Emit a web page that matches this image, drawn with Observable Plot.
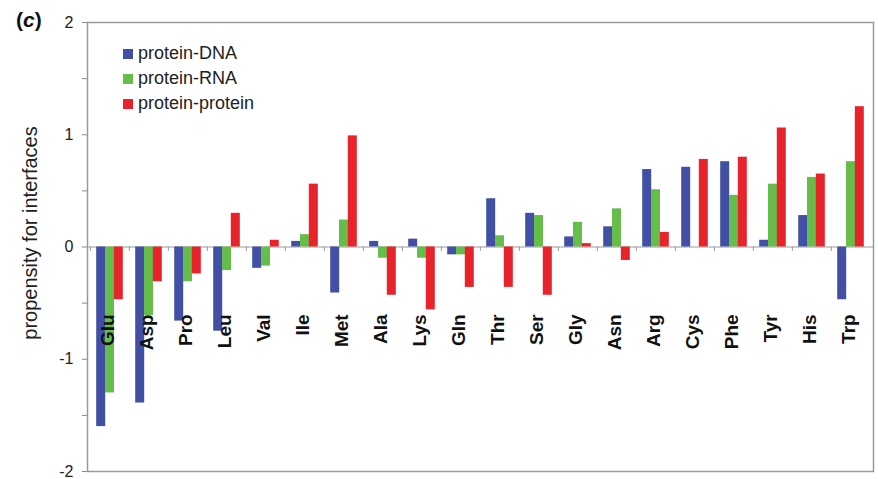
<!DOCTYPE html>
<html>
<head>
<meta charset="utf-8">
<script src="https://cdn.jsdelivr.net/npm/d3@7"></script>
<script src="https://cdn.jsdelivr.net/npm/@observablehq/plot@0.6"></script>
<style>
  html, body { margin: 0; padding: 0; background: #fff; }
  #wrap { position: relative; width: 878px; height: 479px; font-family: "Liberation Sans", Arial, sans-serif; }
  #panel { position: absolute; left: 16px; top: 8px; font-size: 21px; font-weight: bold; color: #111; }
  #legend { position: absolute; left: 123px; top: 41px; font-size: 18px; color: #222; }
  #legend .row { display: flex; align-items: center; height: 25px; }
  #legend .sw { width: 10px; height: 10px; margin-right: 5px; }
</style>
</head>
<body>
<div id="wrap">
  <div id="chart"></div>
  <div id="panel">(<i>c</i>)</div>
  <div id="legend"></div>
</div>
<script>
const categories = ["Glu","Asp","Pro","Leu","Val","Ile","Met","Ala","Lys","Gln","Thr","Ser","Gly","Asn","Arg","Cys","Phe","Tyr","His","Trp"];
const seriesNames = ["protein-DNA","protein-RNA","protein-protein"];
const seriesColors = ["#4150a5","#66bd4a","#e8232b"];
const proteinDNA =     [-1.60,-1.39,-0.66,-0.75,-0.19,0.05,-0.41,0.05,0.07,-0.07,0.43,0.30,0.09,0.18,0.69,0.71,0.76,0.06,0.28,-0.47];
const proteinRNA =     [-1.30,-0.61,-0.31,-0.21,-0.17,0.11,0.24,-0.10,-0.10,-0.07,0.10,0.28,0.22,0.34,0.51,0.00,0.46,0.56,0.62,0.76];
const proteinProtein = [-0.47,-0.31,-0.24,0.30,0.06,0.56,0.99,-0.43,-0.56,-0.36,-0.36,-0.43,0.03,-0.12,0.13,0.78,0.80,1.06,0.65,1.25];
const yTicks = [-2,-1.5,-1,-0.5,0,0.5,1,1.5,2];
const yLabel = "propensity for interfaces";

const W = 878, H = 479, ML = 87, MR = 5, MT = 22, MB = 8;
const step = (W - ML - MR) / categories.length;
const barW = 8.8;
const labelY = -0.6;

const seriesValues = [proteinDNA, proteinRNA, proteinProtein];
const tables = seriesValues.map((vals, s) => categories.map((c, i) => ({aa: c, value: vals[i], series: seriesNames[s]})));

const bars = tables.map((t, s) => Plot.barY(t, {
  x: "aa", y: "value", fill: seriesColors[s], dx: (s - 1) * barW
}));

const chart = Plot.plot({
  width: W, height: H,
  marginLeft: ML, marginRight: MR, marginTop: MT, marginBottom: MB,
  style: {fontFamily: "'Liberation Sans', Arial, sans-serif", background: "#fff"},
  x: {domain: categories, paddingInner: 1 - barW / step, paddingOuter: (1 - barW / step) / 2, axis: null},
  y: {domain: [-2, 2], axis: null},
  marks: [
    Plot.ruleY([0], {stroke: "#9a9a9a"}),
    Plot.ruleX(categories, {x: d => d, y1: 0, y2: -0.04, dx: -step / 2, stroke: "#9a9a9a"}),
    ...bars,
    Plot.text(categories, {x: d => d, y: labelY, text: d => d, rotate: -90, textAnchor: "end", fontWeight: "bold", fontSize: 19, fill: "#111", dx: -2}),
    Plot.axisY({ticks: yTicks, tickFormat: d => Number.isInteger(d) ? String(d) : "", tickSize: 5, tickPadding: 9, fontSize: 16, color: "#222", stroke: "#888", label: null}),
    Plot.text([yLabel], {frameAnchor: "left", text: d => d, rotate: -90, textAnchor: "middle", dx: -57, dy: -14, fontSize: 20, fill: "#222"}),
    Plot.frame({stroke: "#9a9a9a", strokeWidth: 1.5})
  ]
});
document.getElementById("chart").appendChild(chart);

const legend = document.getElementById("legend");
seriesNames.forEach((name, i) => {
  const row = document.createElement("div");
  row.className = "row";
  const sw = document.createElement("div");
  sw.className = "sw";
  sw.style.background = seriesColors[i];
  const tx = document.createElement("span");
  tx.textContent = name;
  row.appendChild(sw); row.appendChild(tx);
  legend.appendChild(row);
});
</script>
</body>
</html>
